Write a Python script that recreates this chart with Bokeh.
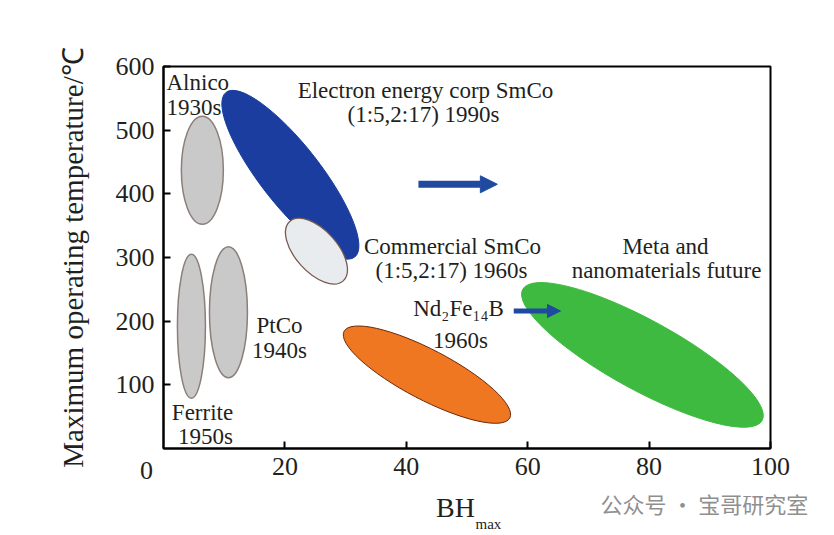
from bokeh.plotting import figure
from bokeh.models import Label, Arrow, NormalHead, FixedTicker
from bokeh.embed import file_html
from bokeh.resources import INLINE

# ---- data ----
x_ticks = [20, 40, 60, 80, 100]
y_ticks = [100, 200, 300, 400, 500, 600]

# magnet families: centre (BHmax, max operating temperature)
gray_names = ["Alnico", "Ferrite", "PtCo"]
gray_bh = [6.4, 4.6, 10.7]
gray_t = [437, 192, 214]

sm_names = ["Electron energy corp SmCo", "Commercial SmCo"]
sm_bh = [20.9, 25.2]
sm_t = [430, 310]

ndfeb_bh = [43.4]
ndfeb_t = [116]

future_bh = [78.9]
future_t = [147]

# arrows (start BH, end BH, temperature)
arrow_x0 = [42.0, 57.7]
arrow_x1 = [55.0, 65.4]
arrow_t = [415, 216]

SERIF = "Liberation Serif"
TXT = "#231f20"

p = figure(width=818, height=535, x_range=(0, 100), y_range=(0, 600),
           output_backend="svg", toolbar_location=None,
           min_border_left=163, min_border_right=48,
           min_border_top=66, min_border_bottom=87)
p.grid.visible = False
p.outline_line_color = "black"
p.outline_line_width = 2

for ax in (p.xaxis[0], p.yaxis[0]):
    ax.axis_line_width = 2
    ax.axis_line_color = "black"
    ax.major_tick_in = 7
    ax.major_tick_out = 0
    ax.major_tick_line_width = 2
    ax.minor_tick_line_color = None
    ax.major_label_text_font = SERIF
    ax.major_label_text_font_size = "26px"
    ax.major_label_text_color = TXT
    ax.major_label_standoff = 9

p.xaxis.ticker = FixedTicker(ticks=x_ticks)
p.yaxis.ticker = FixedTicker(ticks=y_ticks)
p.yaxis.axis_label = "Maximum operating temperature/℃"
p.yaxis.axis_label_text_font = SERIF
p.yaxis.axis_label_text_font_size = "29px"
p.yaxis.axis_label_text_font_style = "normal"
p.yaxis.axis_label_text_color = TXT
p.yaxis.axis_label_standoff = 24

# gray ellipses
p.ellipse(x=gray_bh, y=gray_t, width=[42, 28, 38], height=[108, 144, 131],
          width_units="screen", height_units="screen",
          fill_color="#c9c9c9", line_color="#8c7f7a", line_width=1.5)
# SmCo 1990s (blue) then commercial (white)
p.ellipse(x=sm_bh[0], y=sm_t[0], width=209, height=60, angle=-52, angle_units="deg",
          width_units="screen", height_units="screen",
          fill_color="#1a3d9f", line_color="#1a3d9f", line_width=1)
p.ellipse(x=sm_bh[1], y=sm_t[1], width=80, height=42, angle=-48, angle_units="deg",
          width_units="screen", height_units="screen",
          fill_color="#e8ecef", line_color="#7a5a50", line_width=1.3)
# NdFeB
p.ellipse(x=ndfeb_bh, y=ndfeb_t, width=187, height=50, angle=-27.6, angle_units="deg",
          width_units="screen", height_units="screen",
          fill_color="#ef7722", line_color="#6b2a0a", line_width=1)
# future
p.ellipse(x=future_bh, y=future_t, width=273, height=70, angle=-28.7, angle_units="deg",
          width_units="screen", height_units="screen",
          fill_color="#3dba3f", line_color="#3dba3f", line_width=1)

# arrows
for x0, x1, t, lw, hs in zip(arrow_x0, arrow_x1, arrow_t, [7, 5], [17, 13]):
    p.add_layout(Arrow(x_start=x0, y_start=t, x_end=x1, y_end=t,
                       line_color="#1f4aa0", line_width=lw,
                       end=NormalHead(size=hs, fill_color="#1f4aa0", line_color="#1f4aa0")))

# annotations text
def px(xp):
    return (xp - 163) / 6.07

def py(yp):
    return (447.75 - yp) / 0.6375

def txt(x, y, s, align="center", size="23px", color=TXT, font=SERIF, place="center"):
    lab = Label(x=x, y=y, text=s, text_align=align, text_baseline="middle",
                text_font=font, text_font_size=size, text_color=color)
    if place == "center":
        p.add_layout(lab)
    else:
        p.add_layout(lab, place)

txt(px(166), py(81), "Alnico", align="left")
txt(px(166), py(106), "1930s", align="left")
txt(px(425), py(89), "Electron energy corp SmCo")
txt(px(423), py(113), "(1:5,2:17) 1990s")
txt(px(452), py(245), "Commercial SmCo")
txt(px(451), py(270), "(1:5,2:17) 1960s")
txt(px(665), py(245), "Meta and")
txt(px(666), py(270), "nanomaterials future")
txt(px(458), py(308), "Nd₂Fe₁₄B")
txt(px(460), py(340), "1960s")
txt(px(279), py(325), "PtCo")
txt(px(279), py(350), "1940s")
txt(px(202), py(412), "Ferrite")
txt(px(205), py(436), "1950s")

# texts outside the frame live in side panels that have spare room
txt(px(146), py(470), "0", size="26px", place="right")
txt(px(475), py(523), "max", align="left", size="15px", place="right")
txt(px(455), py(507), "BH", size="28px", place="above")
txt(px(600), py(502), "公众号 · 宝哥研究室", align="left", size="22px",
    color="#8f8f8f", font="Noto Sans CJK SC", place="above")

open("out.html", "w").write(file_html(p, INLINE))
